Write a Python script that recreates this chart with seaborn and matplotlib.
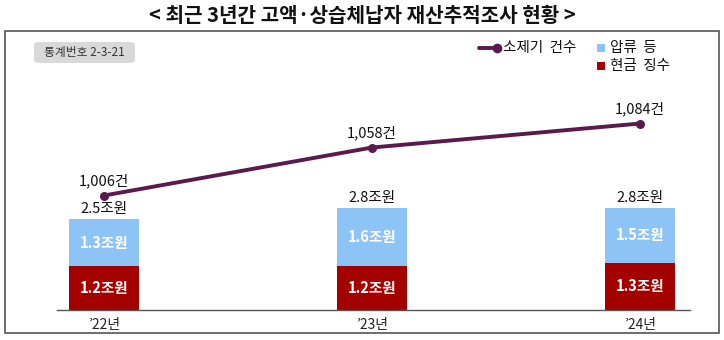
import matplotlib
matplotlib.use("Agg")
import matplotlib.pyplot as plt
from matplotlib.lines import Line2D
from matplotlib.patches import Rectangle, FancyBboxPatch
import seaborn as sns
import pandas as pd

sns.set_theme(style="white")
plt.rcParams["font.family"] = ["Noto Sans CJK KR", "DejaVu Sans"]

# 연도별 재산추적조사 실적
years = ["’22년", "’23년", "’24년"]
cash = [1.2, 1.2, 1.3]            # 현금 징수 (조원)
seizure = [1.3, 1.6, 1.5]         # 압류 등 (조원)
cases = [1006, 1058, 1084]        # 소제기 건수

total = [c + s for c, s in zip(cash, seizure)]
df = pd.DataFrame({"연도": years, "현금 징수": cash, "압류 등": seizure,
                   "합계": total, "소제기 건수": cases})

BLUE = "#8ec3f5"
RED = "#a30000"
PURPLE = "#5a1a4c"

fig = plt.figure(figsize=(7.24, 3.40), dpi=100)
W, H = 724, 340

def fx(px):
    return px / W

def fy(py):
    return 1 - py / H

# 바깥 테두리
fig.patches.append(Rectangle((fx(5), fy(333)), fx(714), 302 / H, transform=fig.transFigure,
                             fill=False, edgecolor="#555555", linewidth=1.2))

fig.text(0.5, fy(16), "< 최근 3년간 고액·상습체납자 재산추적조사 현황 >",
         ha="center", va="center", fontsize=14.5, fontweight="bold", color="#111111")

# 통계번호 배지
fig.patches.append(FancyBboxPatch((fx(34), fy(63)), fx(101), 21 / H,
                                  boxstyle="round,pad=0,rounding_size=0.008",
                                  transform=fig.transFigure, facecolor="#d9d9d9",
                                  edgecolor="none"))
fig.text(fx(84.5), fy(52.5), "통계번호 2-3-21", ha="center", va="center",
         fontsize=8.5, color="#333333")

ax = fig.add_axes([fx(57), fy(310), fx(633), 240 / H])
sns.barplot(data=df, x="연도", y="합계", color=BLUE, width=0.26, ax=ax,
            saturation=1, edgecolor="none")
sns.barplot(data=df, x="연도", y="현금 징수", color=RED, width=0.26, ax=ax,
            saturation=1, edgecolor="none")
ax.set_xlim(-0.175, 2.187)
ax.set_ylim(0, 6.6)
ax.set_xlabel("")
ax.set_ylabel("")
ax.set_yticks([])
for side in ["top", "right", "left"]:
    ax.spines[side].set_visible(False)
ax.spines["bottom"].set_color("#555555")
ax.spines["bottom"].set_linewidth(1.0)
ax.tick_params(axis="x", length=0, pad=6, labelsize=10, labelcolor="#222222")

for i in range(len(years)):
    ax.text(i, cash[i] / 2, f"{cash[i]:.1f}조원", ha="center", va="center",
            color="white", fontsize=10.5, fontweight="bold")
    ax.text(i, cash[i] + seizure[i] / 2, f"{seizure[i]:.1f}조원", ha="center",
            va="center", color="white", fontsize=10.5, fontweight="bold")
    ax.text(i, total[i] + 0.08, f"{total[i]:.1f}조원", ha="center", va="bottom",
            color="#111111", fontsize=10.5)

ax2 = ax.twinx()
sns.lineplot(data=df, x="연도", y="소제기 건수", ax=ax2, color=PURPLE, linewidth=2.8,
             marker="o", markersize=6.5, markeredgewidth=0, sort=False)
ax2.set_ylim(882, 1142)
ax2.set_xlim(-0.175, 2.187)
ax2.set_yticks([])
ax2.set_ylabel("")
ax2.set_xlabel("")
for side in ["top", "right", "left", "bottom"]:
    ax2.spines[side].set_visible(False)
for i, v in enumerate(cases):
    ax2.text(i, v + 8, f"{v:,}건", ha="center", va="bottom", color="#111111",
             fontsize=10.5)

# 범례
fig.add_artist(Line2D([fx(479), fx(498)], [fy(48), fy(48)], transform=fig.transFigure,
                      color=PURPLE, linewidth=2.8))
fig.add_artist(Line2D([fx(497)], [fy(48)], transform=fig.transFigure, color=PURPLE,
                      marker="o", markersize=7, markeredgewidth=0))
fig.text(fx(503), fy(48), "소제기  건수", ha="left", va="center", fontsize=10.5,
         color="#111111")
fig.patches.append(Rectangle((fx(597), fy(52)), fx(8), 8 / H, transform=fig.transFigure,
                             facecolor=BLUE, edgecolor="none"))
fig.text(fx(610), fy(48), "압류  등", ha="left", va="center", fontsize=10.5,
         color="#111111")
fig.patches.append(Rectangle((fx(597), fy(70)), fx(8), 8 / H, transform=fig.transFigure,
                             facecolor=RED, edgecolor="none"))
fig.text(fx(610), fy(66), "현금  징수", ha="left", va="center", fontsize=10.5,
         color="#111111")

fig.savefig("out.png", dpi=100)
